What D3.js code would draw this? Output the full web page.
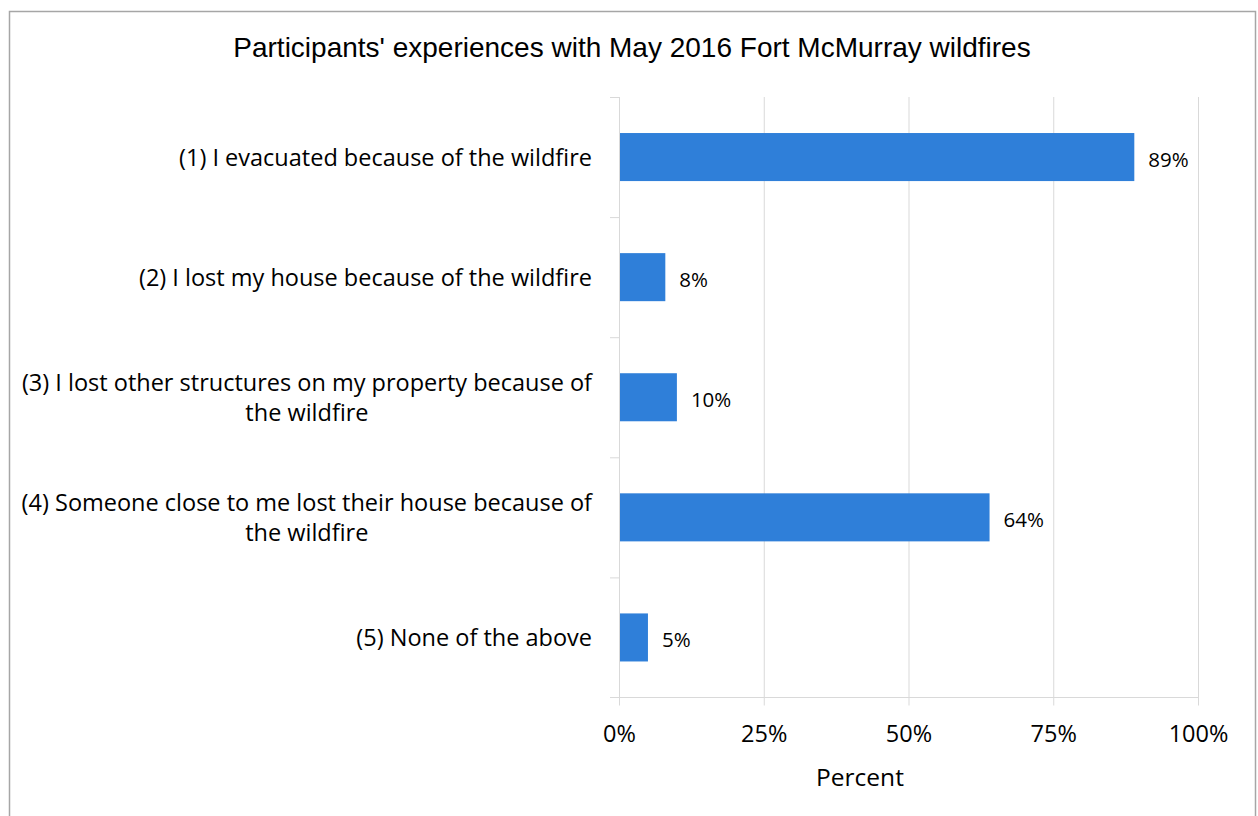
<!DOCTYPE html>
<html>
<head>
<meta charset="utf-8">
<script src="https://cdn.jsdelivr.net/npm/d3@7"></script>
<style>
  html, body { margin: 0; padding: 0; background: #fff; }
  svg { display: block; }
</style>
</head>
<body>
<script>
// Survey responses: share of participants reporting each experience
const categories = [
  ["(1) I evacuated because of the wildfire"],
  ["(2) I lost my house because of the wildfire"],
  ["(3) I lost other structures on my property because of", "the wildfire"],
  ["(4) Someone close to me lost their house because of", "the wildfire"],
  ["(5) None of the above"]
];
const values = [89, 8, 10, 64, 5];
const xTicks = [0, 25, 50, 75, 100];
const title = "Participants' experiences with May 2016 Fort McMurray wildfires";
const xTitle = "Percent";

const W = 1258, H = 816;
const svg = d3.select("body").append("svg").attr("width", W).attr("height", H);

// outer chart frame
svg.append("rect")
  .attr("x", 9.5).attr("y", 11.5).attr("width", 1246).attr("height", 820)
  .attr("fill", "#fff").attr("stroke", "#a6a6a6").attr("stroke-width", 1.5);

const plot = { left: 619, right: 1198, top: 97, bottom: 697.5 };
const labelFont = "'Open Sans', sans-serif";

const x = d3.scaleLinear().domain([0, 100]).range([plot.left, plot.right]);
const idx = d3.range(categories.length);
const yBand = d3.scaleBand().domain(idx).range([plot.top, plot.bottom]).padding(0);
const yBar = d3.scaleBand().domain(idx).range([plot.top, plot.bottom])
  .paddingInner(0.6).paddingOuter(0.3);

// title
svg.append("text")
  .attr("x", 632).attr("y", 57)
  .attr("text-anchor", "middle")
  .attr("font-family", "'Liberation Sans', Arial, sans-serif")
  .attr("font-size", 28).attr("fill", "#000")
  .text(title);

// vertical gridlines
svg.append("g").selectAll("line").data(xTicks).join("line")
  .attr("x1", d => x(d) + 0.5).attr("x2", d => x(d) + 0.5)
  .attr("y1", plot.top).attr("y2", plot.bottom + 8)
  .attr("stroke", "#d9d9d9").attr("stroke-width", 1);

// bottom axis line
svg.append("line")
  .attr("x1", plot.left - 9).attr("x2", plot.right + 0.5)
  .attr("y1", plot.bottom).attr("y2", plot.bottom)
  .attr("stroke", "#d9d9d9").attr("stroke-width", 1);

// category boundary ticks on the left
svg.append("g").selectAll("line").data(d3.range(categories.length)).join("line")
  .attr("x1", plot.left - 9).attr("x2", plot.left)
  .attr("y1", d => yBand(d) + 0.5).attr("y2", d => yBand(d) + 0.5)
  .attr("stroke", "#d9d9d9").attr("stroke-width", 1);

// bars
svg.append("g").selectAll("rect").data(values).join("rect")
  .attr("x", x(0) + 1)
  .attr("y", (d, i) => yBar(i))
  .attr("width", d => x(d) - x(0) - 1)
  .attr("height", yBar.bandwidth())
  .attr("fill", "#2f7fd9");

// value labels
svg.append("g").selectAll("text").data(values).join("text")
  .attr("x", d => x(d) + 14)
  .attr("y", (d, i) => yBand(i) + yBand.bandwidth() / 2 + 10)
  .attr("font-family", labelFont).attr("font-size", 20.5).attr("fill", "#000")
  .text(d => d + "%");

// category labels (wrapped lines centred on each other, block right-aligned)
const catG = svg.append("g");
categories.forEach((lines, i) => {
  const cy = yBand(i) + yBand.bandwidth() / 2;
  const lh = 30;
  const t = catG.append("text")
    .attr("font-family", labelFont).attr("font-size", 23.5).attr("fill", "#000");
  const spans = lines.map((s, k) => t.append("tspan").text(s)
    .attr("y", cy + 9 + (k - (lines.length - 1) / 2) * lh));
  const widths = spans.map(sp => sp.node().getComputedTextLength());
  const maxW = d3.max(widths);
  const right = 592;
  spans.forEach(sp => {
    sp.attr("x", right - maxW / 2).attr("text-anchor", "middle");
  });
});

// x tick labels
svg.append("g").selectAll("text").data(xTicks).join("text")
  .attr("x", d => x(d) + 0.5).attr("y", 742)
  .attr("text-anchor", "middle")
  .attr("font-family", labelFont).attr("font-size", 23.5).attr("fill", "#000")
  .text(d => d + "%");

// x axis title
svg.append("text")
  .attr("x", 860).attr("y", 786)
  .attr("text-anchor", "middle")
  .attr("font-family", labelFont).attr("font-size", 24.5).attr("fill", "#000")
  .text(xTitle);
</script>
</body>
</html>
